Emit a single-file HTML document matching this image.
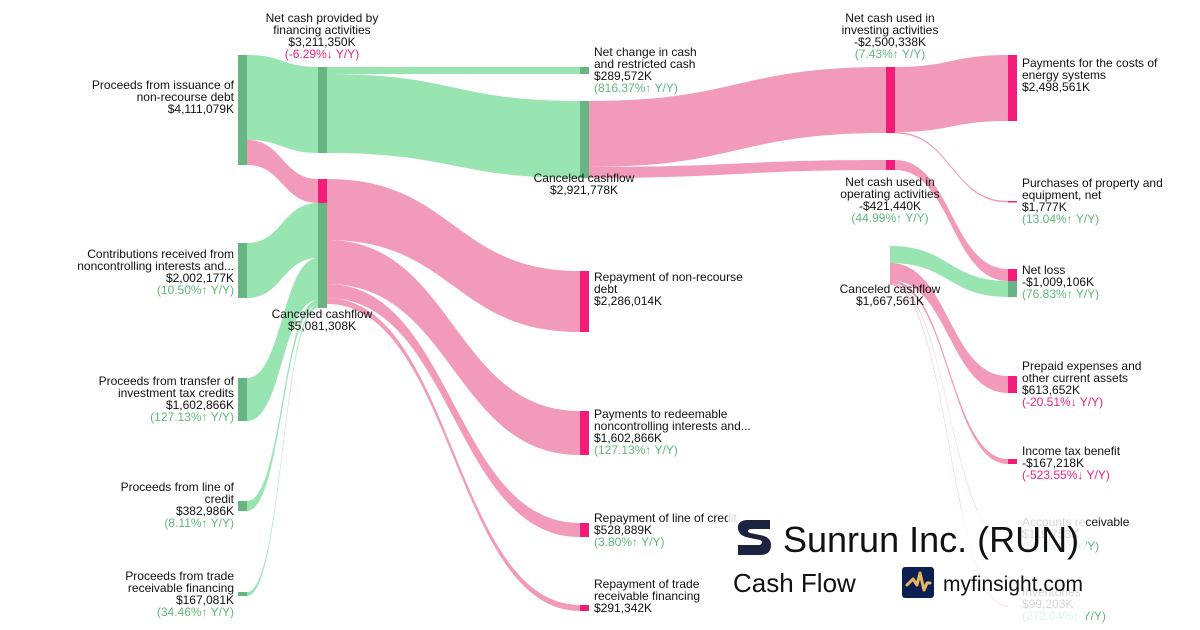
<!DOCTYPE html>
<html><head><meta charset="utf-8"><style>
body{margin:0;background:#fff;width:1200px;height:630px;overflow:hidden}
svg{display:block}
text{font-family:"Liberation Sans",sans-serif;font-size:12px;fill:#111}
.g{fill:#5fb879}.r{fill:#f0237a}
.gl{fill:#98e5b2}.pl{fill:#f29ab9}
.gn{fill:#68b483}.pn{fill:#f41c79}
</style></head><body>
<svg id="s" width="1200" height="630" viewBox="0 0 1200 630">
<g id="links"></g>
<!-- nodes -->
<rect class="gn" x="238" y="55" width="9" height="85"/>
<rect class="gn" x="238" y="140" width="9" height="25"/>
<rect class="gn" x="238" y="243" width="9" height="55"/>
<rect class="gn" x="238" y="378" width="9" height="43"/>
<rect class="gn" x="238" y="501" width="9" height="10"/>
<rect class="gn" x="238" y="592" width="9" height="4"/>
<rect class="gn" x="318" y="67" width="9" height="86"/>
<rect class="pn" x="318" y="179" width="9" height="24"/>
<rect class="gn" x="318" y="203" width="9" height="105"/>
<rect class="gn" x="580" y="67" width="9" height="7"/>
<rect class="gn" x="580" y="101" width="9" height="77"/>
<rect class="pn" x="580" y="271" width="9" height="61"/>
<rect class="pn" x="580" y="411" width="9" height="44"/>
<rect class="pn" x="580" y="523" width="9" height="14"/>
<rect class="pn" x="580" y="605" width="9" height="6"/>
<rect class="pn" x="886" y="67" width="9" height="66"/>
<rect class="pn" x="886" y="160" width="9" height="10"/>
<rect class="pn" x="1008" y="55" width="9" height="66"/>
<rect class="pn" x="1008" y="201" width="9" height="1.5"/>
<rect class="pn" x="1008" y="269" width="9" height="12"/>
<rect class="gn" x="1008" y="281" width="9" height="16"/>
<rect class="pn" x="1008" y="376" width="9" height="17"/>
<rect class="pn" x="1008" y="459" width="9" height="5"/>
<!-- labels col1 -->
<g text-anchor="end">
<text x="234" y="89">Proceeds from issuance of</text>
<text x="234" y="101">non-recourse debt</text>
<text x="234" y="113">$4,111,079K</text>
<text x="234" y="258">Contributions received from</text>
<text x="234" y="270">noncontrolling interests and...</text>
<text x="234" y="282">$2,002,177K</text>
<text x="234" y="294" class="g">(10.50%↑ Y/Y)</text>
<text x="234" y="385">Proceeds from transfer of</text>
<text x="234" y="397">investment tax credits</text>
<text x="234" y="409">$1,602,866K</text>
<text x="234" y="421" class="g">(127.13%↑ Y/Y)</text>
<text x="234" y="491">Proceeds from line of</text>
<text x="234" y="503">credit</text>
<text x="234" y="515">$382,986K</text>
<text x="234" y="527" class="g">(8.11%↑ Y/Y)</text>
<text x="234" y="580">Proceeds from trade</text>
<text x="234" y="592">receivable financing</text>
<text x="234" y="604">$167,081K</text>
<text x="234" y="616" class="g">(34.46%↑ Y/Y)</text>
</g>
<g text-anchor="middle">
<text x="322" y="22">Net cash provided by</text>
<text x="322" y="34">financing activities</text>
<text x="322" y="46">$3,211,350K</text>
<text x="322" y="58" class="r">(-6.29%↓ Y/Y)</text>
<text x="322" y="318">Canceled cashflow</text>
<text x="322" y="330">$5,081,308K</text>
<text x="584" y="182">Canceled cashflow</text>
<text x="584" y="194">$2,921,778K</text>
<text x="890" y="22">Net cash used in</text>
<text x="890" y="34">investing activities</text>
<text x="890" y="46">-$2,500,338K</text>
<text x="890" y="58" class="g">(7.43%↑ Y/Y)</text>
<text x="890" y="186">Net cash used in</text>
<text x="890" y="198">operating activities</text>
<text x="890" y="210">-$421,440K</text>
<text x="890" y="222" class="g">(44.99%↑ Y/Y)</text>
<text x="890" y="293">Canceled cashflow</text>
<text x="890" y="305">$1,667,561K</text>
</g>
<text x="594" y="56">Net change in cash</text>
<text x="594" y="68">and restricted cash</text>
<text x="594" y="80">$289,572K</text>
<text x="594" y="92" class="g">(816.37%↑ Y/Y)</text>
<text x="594" y="281">Repayment of non-recourse</text>
<text x="594" y="293">debt</text>
<text x="594" y="305">$2,286,014K</text>
<text x="594" y="418">Payments to redeemable</text>
<text x="594" y="430">noncontrolling interests and...</text>
<text x="594" y="442">$1,602,866K</text>
<text x="594" y="454" class="g">(127.13%↑ Y/Y)</text>
<text x="594" y="522">Repayment of line of credit</text>
<text x="594" y="534">$528,889K</text>
<text x="594" y="546" class="g">(3.80%↑ Y/Y)</text>
<text x="594" y="588">Repayment of trade</text>
<text x="594" y="600">receivable financing</text>
<text x="594" y="612">$291,342K</text>
<text x="1022" y="67">Payments for the costs of</text>
<text x="1022" y="79">energy systems</text>
<text x="1022" y="91">$2,498,561K</text>
<text x="1022" y="187">Purchases of property and</text>
<text x="1022" y="199">equipment, net</text>
<text x="1022" y="211">$1,777K</text>
<text x="1022" y="223" class="g">(13.04%↑ Y/Y)</text>
<text x="1022" y="274">Net loss</text>
<text x="1022" y="286">-$1,009,106K</text>
<text x="1022" y="298" class="g">(76.83%↑ Y/Y)</text>
<text x="1022" y="370">Prepaid expenses and</text>
<text x="1022" y="382">other current assets</text>
<text x="1022" y="394">$613,652K</text>
<text x="1022" y="406" class="r">(-20.51%↓ Y/Y)</text>
<text x="1022" y="455">Income tax benefit</text>
<text x="1022" y="467">-$167,218K</text>
<text x="1022" y="479" class="r">(-523.55%↓ Y/Y)</text>
<text x="1022" y="526">Accounts receivable</text>
<text x="1022" y="538">$119,753K</text>
<text x="1022" y="550" class="g">(59.63%↑ Y/Y)</text>
<text x="1022" y="596">Inventories</text>
<text x="1022" y="608">$99,203K</text>
<text x="1022" y="620" class="g">(272.04%↑ Y/Y)</text>
<!-- overlay -->
<rect x="728" y="510" width="358" height="120" fill="#fff" opacity="0.82"/>
<path d="M770 520 L748 520 Q737 520 738 529 Q739 536 750 538 L760 540 Q764 542 760 545 L738 545 L738 555 L760 555 Q771 555 771 545 Q771 537 760 535 L750 533 Q746 531 750 529 L770 529 Z" fill="#1c2340"/>
<text x="783" y="552" style="font-size:36px">Sunrun Inc. (RUN)</text>
<text x="733" y="592" style="font-size:26px">Cash Flow</text>
<rect x="902" y="567" width="32" height="31" rx="3" fill="#0c1f52"/>
<path d="M907 585 L913 579 L917 585 L920 573 L924 590 L927 583 L930 583" stroke="#e8b65c" stroke-width="3" fill="none" stroke-linejoin="round" stroke-linecap="round"/>
<text x="943" y="591" style="font-size:21px">myfinsight.com</text>
</svg>
<script>
var L=[
[247,55,140,318,67,153,'gl'],
[247,140,165,318,179,203,'pl'],
[247,243,298,318,203,258,'gl'],
[247,378,421,318,258,300,'gl'],
[247,501,511,318,300,305,'gl'],
[247,592,596,318,305,308,'gl'],
[327,67,74,580,67,74,'gl'],
[327,74,153,580,101,178,'gl'],
[327,179,240,580,271,332,'pl'],
[327,240,284,580,411,455,'pl'],
[327,284,298,580,523,537,'pl'],
[327,298,304,580,605,611,'pl'],
[589,101,167,886,67,133,'pl'],
[589,167,178,886,160,170,'pl'],
[895,67,132,1008,55,121,'pl'],
[895,132,133.5,1008,201,202.5,'pl'],
[895,160,170,1008,269,281,'pl'],
[890,246,263,1008,281,297,'gl'],
[890,263,280,1008,376,393,'pl'],
[890,280,283,1008,459,464,'pl'],
[890,283,284,1008,540,541,'pl'],
[890,284,285,1008,605,607,'pl']
];
var g=document.getElementById('links'),h='';
L.forEach(function(l){var x0=l[0],x1=l[3],m=(x0+x1)/2;
h+='<path class="'+l[6]+'" d="M'+x0+' '+l[1]+'C'+m+' '+l[1]+' '+m+' '+l[4]+' '+x1+' '+l[4]+'L'+x1+' '+l[5]+'C'+m+' '+l[5]+' '+m+' '+l[2]+' '+x0+' '+l[2]+'Z"/>';});
g.innerHTML=h;
</script>
</body></html>
